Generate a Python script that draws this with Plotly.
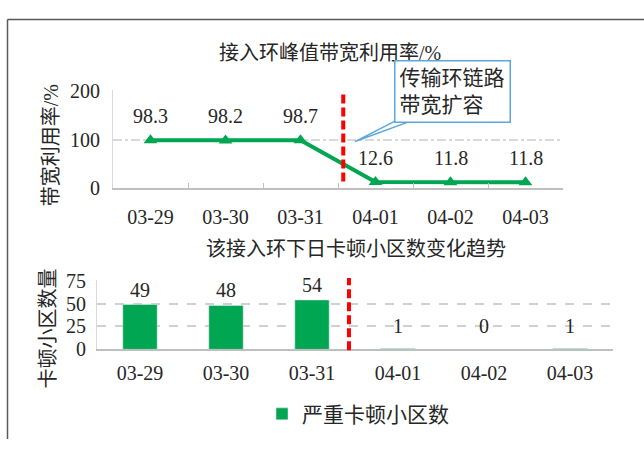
import plotly.graph_objects as go

# ---- data ----
dates = ["03-29", "03-30", "03-31", "04-01", "04-02", "04-03"]
utilization = [98.3, 98.2, 98.7, 12.6, 11.8, 11.8]
stall_cells = [49, 48, 54, 1, 0, 1]
top_title = "接入环峰值带宽利用率/%"
bottom_title = "该接入环下日卡顿小区数变化趋势"
top_ytitle = "带宽利用率/%"
bottom_ytitle = "卡顿小区数量"
series_name = "严重卡顿小区数"
callout_text = "传输环链路<br>带宽扩容"

W, H = 644, 450
FONT = "Liberation Serif, Noto Sans CJK SC, serif"
GREEN = "#00A651"
TXT = "#262626"


def px(x):
    return x / W


def py(y):
    return 1 - y / H


fig = go.Figure()

fig.add_trace(go.Scatter(
    x=dates, y=utilization, mode="lines+markers",
    line=dict(color=GREEN, width=4),
    marker=dict(symbol="triangle-up", size=12, color=GREEN),
    showlegend=False, xaxis="x", yaxis="y", cliponaxis=False,
))

fig.add_trace(go.Bar(
    x=dates, y=stall_cells, name=series_name, marker=dict(color=GREEN),
    width=0.4, showlegend=True, xaxis="x2", yaxis="y2",
))

label_font = dict(size=20, color=TXT, family=FONT)
annotations = []
for d, v in zip(dates, utilization):
    annotations.append(dict(x=d, y=v, xref="x", yref="y", text=f"{v:.1f}",
                            showarrow=False, yanchor="bottom", yshift=11,
                            font=label_font))
for d, v in zip(dates, stall_cells):
    if v >= 10:
        annotations.append(dict(x=d, y=v, xref="x2", yref="y2", text=str(v),
                                showarrow=False, yanchor="bottom", yshift=2,
                                font=label_font))
    else:
        annotations.append(dict(x=d, y=25, xref="x2", yref="y2", text=str(v),
                                showarrow=False, yanchor="middle",
                                font=label_font))

# titles
annotations += [
    dict(x=px(330), y=py(45), xref="paper", yref="paper", text=top_title,
         showarrow=False, xanchor="center", yanchor="middle",
         font=dict(size=20, color=TXT, family=FONT)),
    dict(x=px(356), y=py(251), xref="paper", yref="paper", text=bottom_title,
         showarrow=False, xanchor="center", yanchor="middle",
         font=dict(size=20, color=TXT, family=FONT)),
    dict(x=px(51), y=py(142), xref="paper", yref="paper", text=top_ytitle,
         showarrow=False, textangle=-90, xanchor="center", yanchor="middle",
         font=dict(size=20, color=TXT, family=FONT)),
    dict(x=px(48), y=py(334), xref="paper", yref="paper", text=bottom_ytitle,
         showarrow=False, textangle=-90, xanchor="center", yanchor="middle",
         font=dict(size=20, color=TXT, family=FONT)),
    dict(x=px(452), y=py(85.5), xref="paper", yref="paper", text=callout_text,
         showarrow=False, xanchor="center", yanchor="middle", align="left",
         bgcolor="white", bordercolor="#5AA7DC", borderwidth=1.5,
         width=106, height=52, borderpad=4,
         font=dict(size=21, color=TXT, family=FONT)),
]

shapes = [
    # outer frame (top + left)
    dict(type="line", xref="paper", yref="paper", x0=px(7.5), x1=1, y0=py(10), y1=py(10),
         line=dict(color="#595959", width=1.5)),
    dict(type="line", xref="paper", yref="paper", x0=px(7.5), x1=px(7.5), y0=py(10), y1=0,
         line=dict(color="#595959", width=1.5)),
    # red dashed separators
    dict(type="line", xref="x", yref="paper", x0=2.57, x1=2.57, y0=py(180), y1=py(88),
         line=dict(color="#FF0000", width=4, dash="9px,4px")),
    dict(type="line", xref="x2", yref="paper", x0=2.43, x1=2.43, y0=py(357), y1=py(281),
         line=dict(color="#FF0000", width=4, dash="9px,4px")),
    # callout pointer
    dict(type="path", xref="paper", yref="paper",
         path=f"M {px(396)},{py(116)} L {px(355)},{py(138)} L {px(412)},{py(116)}",
         fillcolor="rgba(0,0,0,0)", line=dict(color="#5AA7DC", width=1.5)),
]

axis_font = dict(size=20, color=TXT, family=FONT)

fig.update_layout(
    width=W, height=H, margin=dict(l=0, r=0, t=0, b=0),
    paper_bgcolor="white", plot_bgcolor="white",
    font=dict(family=FONT, color=TXT),
    xaxis=dict(domain=[px(113), px(563)], anchor="y", type="category",
               range=[-0.5, 5.5], showgrid=False, showline=True,
               linecolor="#BFBFBF", linewidth=1.5, ticks="inside",
               tickson="boundaries", ticklen=5, tickcolor="#BFBFBF",
               tickfont=axis_font, ticklabelstandoff=10),
    yaxis=dict(domain=[py(186.7), py(84)], anchor="x", range=[0, 202],
               tickvals=[0, 100, 200], showgrid=True, gridcolor="#D9D9D9",
               gridwidth=1.5, griddash="dashdot", showline=True,
               linecolor="#D9D9D9", zeroline=False, ticks="",
               tickfont=axis_font, ticklabelstandoff=8),
    xaxis2=dict(domain=[px(97), px(613)], anchor="y2", type="category",
                range=[-0.5, 5.5], showgrid=False, showline=True,
                linecolor="#BFBFBF", linewidth=1.5, ticks="",
                tickfont=axis_font, ticklabelstandoff=5),
    yaxis2=dict(domain=[py(356), py(283)], anchor="x2", range=[0, 76],
                tickvals=[0, 25, 50, 75], showgrid=True, gridcolor="#D0D0D0",
                gridwidth=1.5, griddash="dash", showline=True,
                linecolor="#D9D9D9", zeroline=False, ticks="",
                tickfont=axis_font, ticklabelstandoff=6),
    legend=dict(x=px(262), y=py(424), xanchor="left", yanchor="middle",
                orientation="h", font=dict(size=21, color=TXT, family=FONT),
                bgcolor="rgba(0,0,0,0)"),
    annotations=annotations, shapes=shapes, bargap=0.6,
)

fig.write_html("out.html")
